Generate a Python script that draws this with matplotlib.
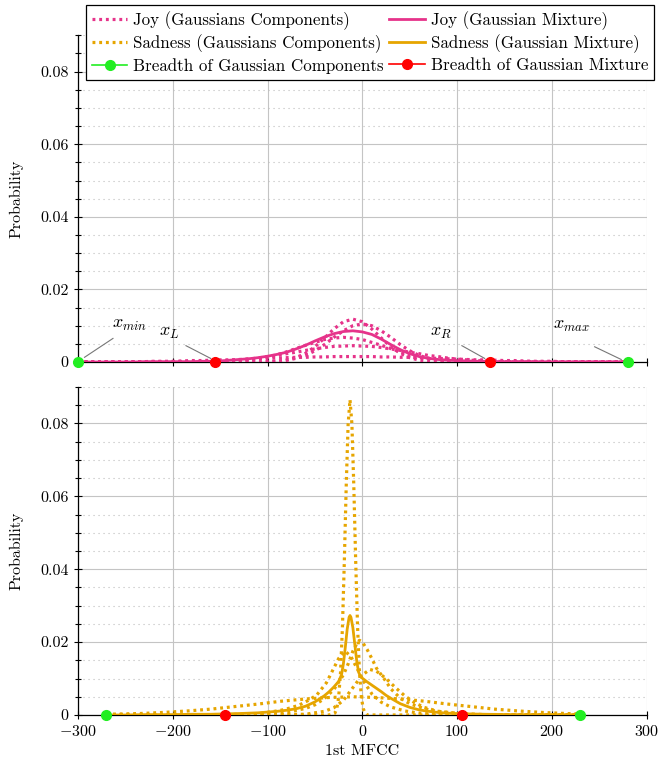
import matplotlib
matplotlib.use("Agg")
import matplotlib.pyplot as plt
from matplotlib.lines import Line2D
from matplotlib.ticker import MultipleLocator
import numpy as np

# -- fonts (Computer Modern look) --
plt.rcParams["font.family"] = ["cmr10", "DejaVu Serif"]
plt.rcParams["mathtext.fontset"] = "cm"
plt.rcParams["axes.formatter.use_mathtext"] = True
plt.rcParams["font.size"] = 11.5

# -- data: Joy (shared x grid, step 10) --
joy_x = np.arange(-300, 290, 10)
joy_mix = [0, 0, 0, 0, 0, 0, 0, .0001, .0001, .0001,
           .0001, .0001, .0001, .0002, .0002, .0003, .0005, .0007, .0009, .0012,
           .0016, .0021, .0027, .0036, .0046, .0058, .0069, .0078, .0084, .0086,
           .0083, .0076, .0063, .0048, .0034, .0023, .0015, .0010, .0007, .0005,
           .0004, .0003, .0002, .0002, .0001, .0001, .0001, .0001, .0001, 0,
           0, 0, 0, 0, 0, 0, 0, 0, 0]
joy_c1 = [0] * 10 + [0] * 10 + \
         [.0001, .0002, .0005, .0012, .0024, .0042, .0066, .0091, .0111, .0118,
          .0111, .0091, .0066, .0042, .0024, .0012, .0005, .0002, .0001, 0] + [0] * 19
joy_c2 = [0] * 10 + [0] * 10 + \
         [.0001, .0002, .0005, .0010, .0018, .0031, .0048, .0068, .0086, .0100,
          .0105, .0100, .0086, .0068, .0048, .0031, .0018, .0010, .0005, .0002,
          .0001] + [0] * 18
joy_c3 = [0] * 10 + \
         [0, 0, 0, 0, 0, .0001, .0002, .0003, .0006, .0009,
          .0014, .0020, .0028, .0037, .0046, .0054, .0062, .0066, .0068, .0066,
          .0062, .0054, .0046, .0037, .0028, .0020, .0014, .0009, .0006, .0003,
          .0002, .0001] + [0] * 17
joy_c4 = [0] * 10 + \
         [0, 0, 0, .0001, .0002, .0003, .0004, .0006, .0008, .0011,
          .0015, .0018, .0023, .0027, .0032, .0036, .0040, .0043, .0044, .0045,
          .0044, .0043, .0040, .0036, .0032, .0027, .0023, .0018, .0015, .0011,
          .0008, .0006, .0004, .0003, .0002, .0001] + [0] * 13
joy_c5 = [0, 0, 0, .0001, .0001, .0001, .0001, .0001, .0002, .0002,
          .0002, .0003, .0004, .0004, .0005, .0006, .0006, .0007, .0008, .0009,
          .0010, .0011, .0012, .0013, .0013, .0014, .0014, .0015, .0015, .0015,
          .0015, .0015, .0014, .0014, .0013, .0013, .0012, .0011, .0010, .0009,
          .0008, .0007, .0006, .0006, .0005, .0004, .0004, .0003, .0002, .0002,
          .0002, .0001, .0001, .0001, .0001, .0001, 0, 0, 0]
joy_comps = [joy_c1, joy_c2, joy_c3, joy_c4, joy_c5]
joy_breadth_comp = [-300, 280]
joy_breadth_mix = [-155, 135]

# -- data: Sadness --
sad_mix_x = [-270, -250, -230, -200, -180, -160, -145, -130, -120, -110,
             -100, -90, -80, -70, -60, -50, -40, -35, -30, -25,
             -22, -20, -18, -16, -14, -13, -12, -10, -8, -6,
             -4, -2, 0, 5, 10, 15, 20, 25, 30, 40,
             50, 60, 70, 80, 90, 100, 110, 130, 160, 200, 230]
sad_mix = [0, 0, .0001, .0001, .0002, .0002, .0003, .0004, .0005, .0006,
           .0008, .0010, .0013, .0017, .0024, .0036, .0053, .0064, .0077, .0092,
           .0110, .0140, .0185, .0235, .0268, .0273, .0268, .0240, .0195, .0150,
           .0118, .0106, .0101, .0091, .0082, .0073, .0064, .0054, .0046, .0031,
           .0021, .0014, .0010, .0007, .0005, .0004, .0003, .0002, .0001, .0001, 0]

sad_c1_x = [-270, -35, -29, -27, -25, -23, -21, -19, -17, -15, -13, -11, -9, -7,
            -5, -3, -1, 1, 3, 5, 230]
sad_c1 = [0, 0, .0005, .0017, .0048, .0117, .0240, .0421, .0628, .0798, .0865,
          .0798, .0628, .0421, .0240, .0117, .0048, .0017, .0005, 0, 0]
sad_c2_x = [-270, -130, -110, -90, -75, -60, -50, -40, -30, -20, -15, -10, -5, -3,
            0, 5, 10, 15, 20, 25, 30, 40, 50, 60, 70, 80, 95, 110, 130, 160, 230]
sad_c2 = [0, 0, .0002, .0005, .0010, .0018, .0028, .0045, .0070, .0110,
          .0140, .0175, .0200, .0205, .0200, .0180, .0155, .0128, .0110, .0092,
          .0072, .0046, .0031, .0022, .0014, .0010, .0006, .0003, .0001, 0, 0]
sad_c3_x = [-270, -140, -110, -95, -84, -75, -66, -57, -48, -38, -31, -25, -18,
            -12, -5, 2, 10, 20, 30, 45, 60, 80, 100, 230]
sad_c3 = [0, .0001, .0004, .0009, .0014, .0020, .0028, .0040, .0055, .0088,
          .0124, .0155, .0175, .0160, .0125, .0090, .0058, .0035, .0022, .0011,
          .0005, .0001, 0, 0]
sad_c4_x = [-270, -60, -40, -30, -20, -10, 0, 8, 15, 25, 35, 45, 55, 65, 80,
            100, 120, 140, 230]
sad_c4 = [0, .0002, .0010, .0020, .0040, .0075, .0110, .0125, .0120, .0100,
          .0075, .0052, .0034, .0021, .0010, .0004, .0001, 0, 0]
sad_c5_x = [-270, -235, -210, -185, -160, -135, -110, -85, -60, -35, -10, 15,
            40, 65, 90, 115, 140, 165, 190, 215, 230]
sad_c5 = [.0002, .0004, .0007, .0011, .0016, .0023, .0030, .0038, .0044, .0048,
          .0050, .0048, .0044, .0038, .0030, .0023, .0016, .0011, .0007, .0004,
          .0003]
sad_comps = [(sad_c1_x, sad_c1), (sad_c2_x, sad_c2), (sad_c3_x, sad_c3),
             (sad_c4_x, sad_c4), (sad_c5_x, sad_c5)]
sad_breadth_comp = [-270, 230]
sad_breadth_mix = [-145, 105]

# -- styles --
PINK = "#E6338A"
ORANGE = "#E6A500"
GREEN = "#22EE22"
RED = "#FF0000"
DOT = (0, (0.9, 1.2))
LW = 2.0
DLW = 2.3

fig = plt.figure(figsize=(6.6, 7.67), dpi=100)
ax1 = fig.add_axes([0.118, 0.528, 0.862, 0.426])
ax2 = fig.add_axes([0.118, 0.0678, 0.862, 0.4276])


def style_axis(ax, show_xlabels):
    ax.set_xlim(-300, 300)
    ax.set_ylim(0, 0.09)
    ax.xaxis.set_major_locator(MultipleLocator(100))
    ax.yaxis.set_major_locator(MultipleLocator(0.02))
    ax.yaxis.set_minor_locator(MultipleLocator(0.005))
    ax.spines["top"].set_visible(False)
    ax.spines["right"].set_visible(False)
    ax.spines["left"].set_linewidth(0.9)
    ax.spines["bottom"].set_linewidth(0.9)
    ax.grid(which="major", color="#c4c4c4", lw=0.8)
    ax.grid(which="minor", axis="y", color="#bdbdbd", lw=0.8, ls=(0, (1, 3.5)))
    ax.set_axisbelow(True)
    ax.tick_params(which="major", direction="inout", length=6, width=0.8)
    ax.tick_params(which="minor", direction="inout", length=4, width=0.8)
    ax.yaxis.set_major_formatter(plt.FuncFormatter(
        lambda v, p: "0" if abs(v) < 1e-12 else f"{v:.2f}"))
    ax.set_ylabel("Probability", labelpad=12)
    if not show_xlabels:
        ax.tick_params(axis="x", labelbottom=False)


style_axis(ax1, False)
style_axis(ax2, True)
ax2.set_xlabel("1st MFCC", labelpad=4)

# -- top: Joy --
for comp in joy_comps:
    ax1.plot(joy_x, comp, color=PINK, lw=DLW, ls=DOT, zorder=3)
ax1.plot(joy_x, joy_mix, color=PINK, lw=LW, zorder=4)
ax1.plot(joy_breadth_comp, [0, 0], ls="none", marker="o", ms=7,
         color=GREEN, zorder=6, clip_on=False)
ax1.plot(joy_breadth_mix, [0, 0], ls="none", marker="o", ms=7,
         color=RED, zorder=6, clip_on=False)

# annotations
notes = [("$x_{min}$", (-246, 0.0102), (-263, 0.0065), (-293, 0.0013)),
         ("$x_L$", (-204, 0.0079), (-186, 0.0045), (-160, 0.0010)),
         ("$x_R$", (83, 0.0079), (105, 0.0045), (129, 0.0010)),
         ("$x_{max}$", (220, 0.0097), (245, 0.0042), (273, 0.0007))]
for txt, tpos, p0, p1 in notes:
    ax1.text(*tpos, txt, ha="center", va="center", fontsize=13)
    ax1.plot([p0[0], p1[0]], [p0[1], p1[1]], color="#777777", lw=0.8, zorder=5)

# -- bottom: Sadness --
for cx, cy in sad_comps:
    ax2.plot(cx, cy, color=ORANGE, lw=DLW, ls=DOT, zorder=3)
ax2.plot(sad_mix_x, sad_mix, color=ORANGE, lw=LW, zorder=4)
ax2.plot(sad_breadth_comp, [0, 0], ls="none", marker="o", ms=7,
         color=GREEN, zorder=6, clip_on=False)
ax2.plot(sad_breadth_mix, [0, 0], ls="none", marker="o", ms=7,
         color=RED, zorder=6, clip_on=False)

# -- legend --
handles = [
    Line2D([], [], color=PINK, lw=DLW, ls=DOT),
    Line2D([], [], color=ORANGE, lw=DLW, ls=DOT),
    Line2D([], [], color=GREEN, lw=1.2, marker="o", ms=7),
    Line2D([], [], color=PINK, lw=LW),
    Line2D([], [], color=ORANGE, lw=LW),
    Line2D([], [], color=RED, lw=1.2, marker="o", ms=7),
]
labels = ["Joy (Gaussians Components)", "Sadness (Gaussians Components)",
          "Breadth of Gaussian Components", "Joy (Gaussian Mixture)",
          "Sadness (Gaussian Mixture)", "Breadth of Gaussian Mixture"]
leg = fig.legend(handles, labels, ncol=2, loc="upper right",
                 bbox_to_anchor=(0.996, 0.998), fontsize=12.2,
                 frameon=True, fancybox=False, framealpha=1,
                 edgecolor="black", handlelength=2.1, handletextpad=0.35,
                 columnspacing=0.3, labelspacing=0.28, borderpad=0.35,
                 borderaxespad=0.2)
leg.get_frame().set_linewidth(0.9)

plt.savefig("out.png", dpi=100, facecolor="white")
